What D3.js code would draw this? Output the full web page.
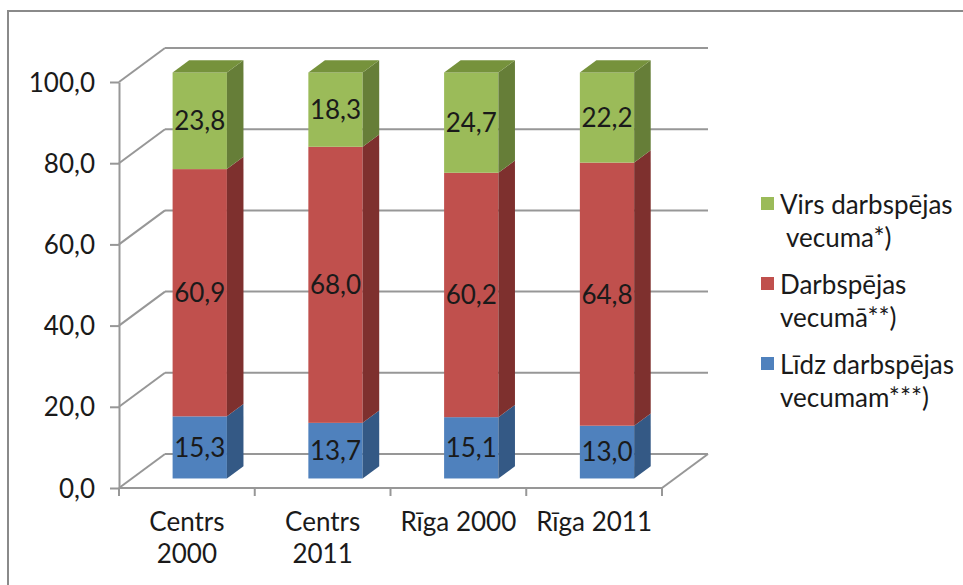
<!DOCTYPE html>
<html>
<head>
<meta charset="utf-8">
<script src="https://cdn.jsdelivr.net/npm/d3@7"></script>
<style>
  html, body { margin: 0; padding: 0; background: #fff; }
  svg { display: block; }
  text { font-family: Lato, "Open Sans", sans-serif; fill: #1a1a1a; }
</style>
</head>
<body>
<svg id="chart" width="963" height="585"></svg>
<script>
// ---- data ----
const categories = ["Centrs 2000", "Centrs 2011", "Rīga 2000", "Rīga 2011"];
const categoryLabelLines = [["Centrs", "2000"], ["Centrs", "2011"], ["Rīga 2000"], ["Rīga 2011"]];
const lidzValues = [15.3, 13.7, 15.1, 13.0];        // Līdz darbspējas vecumam***)
const darbspejasValues = [60.9, 68.0, 60.2, 64.8];  // Darbspējas vecumā**)
const virsValues = [23.8, 18.3, 24.7, 22.2];        // Virs darbspējas vecuma*)
const seriesKeys = ["lidz", "darbspejas", "virs"];
const legendLabels = [
  ["Virs darbspējas", " vecuma*)"],
  ["Darbspējas", "vecumā**)"],
  ["Līdz darbspējas", "vecumam***)"]
];
const legendKeys = ["virs", "darbspejas", "lidz"];
const yTickValues = [0, 20, 40, 60, 80, 100];

// ---- styles ----
const FONT = "26px";
const colors = {
  lidz:       { front: "#4F81BD", side: "#345985", top: "#3F6A9E" },
  darbspejas: { front: "#C0504D", side: "#7E302E", top: "#9E3D3A" },
  virs:       { front: "#9BBB59", side: "#667E38", top: "#76923C" }
};
const gridColor = "#979797";

const svg = d3.select("#chart");

// frame
svg.append("rect").attr("x", 8).attr("y", 11).attr("width", 1000).attr("height", 620)
  .attr("fill", "none").attr("stroke", "#8a8a8a").attr("stroke-width", 2);

// ---- scales ----
const x = d3.scaleBand().domain(categories).range([119, 662]).padding(0);
const y = d3.scaleLinear().domain([0, 100]).range([488, 82]);
const DX = 46, DY = -34;             // full depth offset of the 3D box
const f0 = 0.28, fd = 0.36;          // bar front depth fraction, bar depth fraction
const barW = x.bandwidth() * 0.4;

const table = categories.map((c, i) => ({
  cat: c, lidz: lidzValues[i], darbspejas: darbspejasValues[i], virs: virsValues[i]
}));
const stacked = d3.stack().keys(seriesKeys)(table);

// ---- gridlines (back wall + side wall) ----
const grid = svg.append("g").attr("stroke", gridColor).attr("stroke-width", 2).attr("fill", "none");
const x0 = x.range()[0], x1 = x.range()[1];
yTickValues.forEach(v => {
  const yf = y(v);
  grid.append("line").attr("x1", x0).attr("y1", yf).attr("x2", x0 + DX).attr("y2", yf + DY);
  grid.append("line").attr("x1", x0 + DX).attr("y1", yf + DY).attr("x2", x1 + DX).attr("y2", yf + DY);
});
// floor front and right edges
grid.append("line").attr("x1", x0).attr("y1", y(0)).attr("x2", x1).attr("y2", y(0));
grid.append("line").attr("x1", x1).attr("y1", y(0)).attr("x2", x1 + DX).attr("y2", y(0) + DY);

// ---- y axis ----
const yAxis = d3.axisLeft(y).tickValues(yTickValues).tickSize(9).tickSizeOuter(0)
  .tickFormat(d => d3.format(".1f")(d).replace(".", ","));
const gy = svg.append("g").attr("transform", `translate(${x0},0)`).call(yAxis);
gy.select(".domain").attr("stroke", gridColor).attr("stroke-width", 2);
gy.selectAll(".tick line").attr("stroke", gridColor).attr("stroke-width", 2);
gy.selectAll(".tick text").attr("x", -24).attr("dy", "0.35em")
  .style("font-size", FONT).style("font-family", "Lato, sans-serif").attr("fill", "#1a1a1a");

// ---- x axis ticks and labels ----
const gx = svg.append("g");
const boundaries = categories.map(c => x(c)).concat([x1]);
gx.selectAll("line.tick").data(boundaries).join("line")
  .attr("x1", d => d).attr("x2", d => d).attr("y1", y(0)).attr("y2", y(0) + 8)
  .attr("stroke", gridColor).attr("stroke-width", 2);
gx.selectAll("text.cat").data(categories).join("text")
  .attr("class", "cat")
  .attr("text-anchor", "middle")
  .style("font-size", FONT)
  .each(function(c, i) {
    const t = d3.select(this);
    categoryLabelLines[i].forEach((line, j) => {
      t.append("tspan").attr("x", x(c) + x.bandwidth() / 2).attr("y", 531 + j * 32).text(line);
    });
  });

// ---- bars ----
const ox = DX * f0, oy = DY * f0;
const sx = DX * fd, sy = DY * fd;
const bars = svg.append("g");
categories.forEach((c, i) => {
  const left = x(c) + x.bandwidth() / 2 - barW / 2 + ox;
  const right = left + barW;
  stacked.forEach((s, k) => {
    const key = s.key;
    const yb = y(s[i][0]) + oy, yt = y(s[i][1]) + oy;
    const col = colors[key];
    bars.append("rect").attr("x", left).attr("y", yt).attr("width", barW).attr("height", yb - yt)
      .attr("fill", col.front);
    bars.append("path")
      .attr("d", `M${right},${yb}L${right + sx},${yb + sy}L${right + sx},${yt + sy}L${right},${yt}Z`)
      .attr("fill", col.side);
    if (k === stacked.length - 1) {
      bars.append("path")
        .attr("d", `M${left},${yt}L${right},${yt}L${right + sx},${yt + sy}L${left + sx},${yt + sy}Z`)
        .attr("fill", col.top);
    }
    bars.append("text")
      .attr("x", (left + right) / 2).attr("y", (yb + yt) / 2).attr("dy", "0.36em")
      .attr("text-anchor", "middle").style("font-size", FONT).attr("fill", "#000")
      .text(d3.format(".1f")(s[i][1] - s[i][0]).replace(".", ","));
  });
});

// ---- legend ----
const legendY = [214, 294, 374];
const lg = svg.append("g");
legendKeys.forEach((key, i) => {
  const by = legendY[i];
  lg.append("rect").attr("x", 761).attr("y", by - 17).attr("width", 13).attr("height", 13)
    .attr("fill", colors[key].front);
  const t = lg.append("text").style("font-size", FONT).style("white-space", "pre");
  legendLabels[i].forEach((line, j) => {
    t.append("tspan").attr("x", 780).attr("y", by + j * 33).text(line);
  });
});
</script>
</body>
</html>
